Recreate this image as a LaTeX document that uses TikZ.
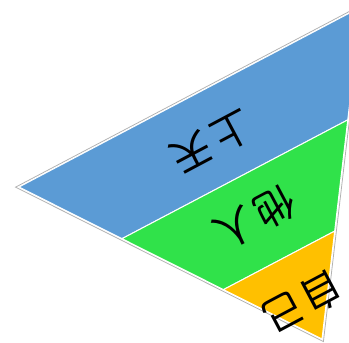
\documentclass[tikz,border=0pt]{standalone}
\usepackage{fontspec}
\newfontfamily\cjk{Noto Sans CJK SC}
\usetikzlibrary{calc}
\definecolor{bandblue}{HTML}{5B9BD5}
\definecolor{bandgreen}{HTML}{30E24A}
\definecolor{bandorange}{HTML}{FFC000}
\tikzset{
  band/.style={draw=white, line width=1pt, line join=round},
  outline/.style={draw=black!30, line width=0.8pt},
  lvl/.style={font=\cjk\fontsize{40}{40}\selectfont, rotate=-152, inner sep=0pt}
}
\begin{document}
\begin{tikzpicture}[x=1pt,y=-1pt]
\useasboundingbox (0,0) rectangle (349,343);
\clip (0,0) rectangle (349,343);
\coordinate (L) at (19,187);
\coordinate (R) at (361,7);
\coordinate (A) at (322,339);
\coordinate (G) at (234,178);
\coordinate (L1) at ($(L)!0.34!(A)$);
\coordinate (R1) at ($(R)!0.34!(A)$);
\coordinate (L2) at ($(L)!0.675!(A)$);
\coordinate (R2) at ($(R)!0.675!(A)$);
\coordinate (Lo) at ($(G)!1.016!(L)$);
\coordinate (Ro) at ($(G)!1.016!(R)$);
\coordinate (Ao) at ($(G)!1.016!(A)$);
\draw[outline] (Lo) -- (Ro) -- (Ao) -- cycle;
\fill[bandblue, band] (L) -- (R) -- (R1) -- (L1) -- cycle;
\fill[bandgreen, band] (L1) -- (R1) -- (R2) -- (L2) -- cycle;
\fill[bandorange, band] (L2) -- (R2) -- (A) -- cycle;
\node[lvl] (t1) at (212,142) {上\hspace{6pt}天};
\node[lvl] (t2) at (255,218) {他\hspace{6pt}人};
\node[lvl] (t3) at (303,302) {自\hspace{3pt}己};
\end{tikzpicture}
\end{document}
